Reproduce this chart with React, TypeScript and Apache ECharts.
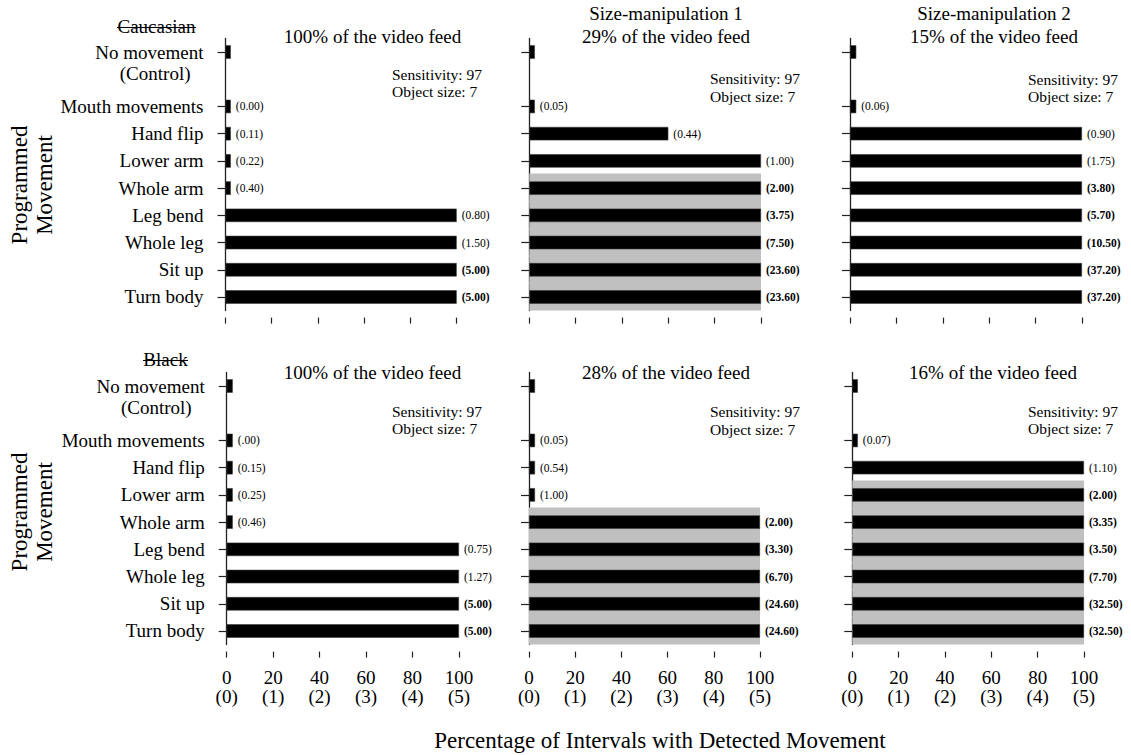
import React, { useEffect, useRef } from "react";
import * as echarts from "echarts";

const SERIF = "Liberation Serif";

// ---------- data ----------
const categories = [
  "No movement",
  "(Control)",
  "Mouth movements",
  "Hand flip",
  "Lower arm",
  "Whole arm",
  "Leg bend",
  "Whole leg",
  "Sit up",
  "Turn body",
];

// percentage of intervals with detected movement
const caucasianFull = [2.3, null, 2.3, 2.3, 2.3, 2.3, 100, 100, 100, 100];
const caucasianSize1 = [2.4, null, 2.4, 60, 100, 100, 100, 100, 100, 100];
const caucasianSize2 = [2.7, null, 2.7, 100, 100, 100, 100, 100, 100, 100];
const blackFull = [2.6, null, 2.6, 2.6, 2.6, 2.6, 100, 100, 100, 100];
const blackSize1 = [2.6, null, 2.6, 2.6, 2.6, 100, 100, 100, 100, 100];
const blackSize2 = [2.4, null, 2.4, 100, 100, 100, 100, 100, 100, 100];

// bracketed rates shown next to bars
const caucasianFullRates = ["", "", "(0.00)", "(0.11)", "(0.22)", "(0.40)", "(0.80)", "(1.50)", "(5.00)", "(5.00)"];
const caucasianSize1Rates = ["", "", "(0.05)", "(0.44)", "(1.00)", "(2.00)", "(3.75)", "(7.50)", "(23.60)", "(23.60)"];
const caucasianSize2Rates = ["", "", "(0.06)", "(0.90)", "(1.75)", "(3.80)", "(5.70)", "(10.50)", "(37.20)", "(37.20)"];
const blackFullRates = ["", "", "(.00)", "(0.15)", "(0.25)", "(0.46)", "(0.75)", "(1.27)", "(5.00)", "(5.00)"];
const blackSize1Rates = ["", "", "(0.05)", "(0.54)", "(1.00)", "(2.00)", "(3.30)", "(6.70)", "(24.60)", "(24.60)"];
const blackSize2Rates = ["", "", "(0.07)", "(1.10)", "(2.00)", "(3.35)", "(3.50)", "(7.70)", "(32.50)", "(32.50)"];

// first category of the grey shaded block (null = none)
const shadeFrom = [null, "Whole arm", null, null, "Whole arm", "Lower arm"];

const panelValues = [caucasianFull, caucasianSize1, caucasianSize2, blackFull, blackSize1, blackSize2];
const panelRates = [caucasianFullRates, caucasianSize1Rates, caucasianSize2Rates, blackFullRates, blackSize1Rates, blackSize2Rates];

const panelTitles = [
  "100% of the video feed",
  "Size-manipulation 1\n29% of the video feed",
  "Size-manipulation 2\n15% of the video feed",
  "100% of the video feed",
  "28% of the video feed",
  "16% of the video feed",
];
const groupNames = ["Caucasian", "Black"];
const settingsNote = "Sensitivity: 97\nObject size: 7";
const yAxisTitle = "Programmed\nMovement";
const xAxisTitle = "Percentage of Intervals with Detected Movement";

// ---------- layout ----------
const ROW_TOP = [38.4, 372.4];
const GRID_H = 272.2;
const PANEL_X = [
  [225.5, 456.7],
  [529.3, 761],
  [850, 1082],
  [226.7, 459],
  [529, 760],
  [852.3, 1084],
];
const TITLE_POS = [
  [372.5, 37],
  [666, 37],
  [994, 37],
  [372.5, 373],
  [666, 373],
  [993, 373],
];
const NOTE_POS = [
  [392, 83],
  [710, 87.5],
  [1028, 88],
  [392, 420],
  [710, 420.5],
  [1028, 420],
];

export default function App() {
  const ref = useRef<HTMLDivElement>(null);

  useEffect(() => {
    const chart = echarts.init(ref.current as HTMLDivElement, null, { renderer: "svg" });

    const grids: any[] = [];
    const xAxes: any[] = [];
    const yAxes: any[] = [];
    const series: any[] = [];
    const graphics: any[] = [];
    const slot = GRID_H / categories.length;

    for (let g = 0; g < 6; g++) {
      const row = Math.floor(g / 3);
      const col = g % 3;
      const [x0, x1] = PANEL_X[g];
      grids.push({ left: x0, top: ROW_TOP[row], width: x1 - x0, height: GRID_H, containLabel: false });

      xAxes.push({
        gridIndex: g,
        type: "value",
        min: 0,
        max: 100,
        interval: 20,
        offset: 7,
        axisLine: { show: false },
        axisTick: { show: true, length: 6, lineStyle: { color: "#222", width: 1.2 } },
        splitLine: { show: false },
        axisLabel:
          row === 1
            ? {
                show: true,
                margin: 16,
                fontSize: 19,
                lineHeight: 19,
                fontFamily: SERIF,
                color: "#000",
                formatter: (v: number) => `${v}\n(${v / 20})`,
              }
            : { show: false },
      });

      yAxes.push({
        gridIndex: g,
        type: "category",
        data: categories,
        inverse: true,
        offset: 4,
        axisLine: { show: true, lineStyle: { color: "#222", width: 1.3 } },
        axisTick: {
          show: true,
          alignWithLabel: true,
          length: 8,
          interval: (_i: number, v: string) => v !== "(Control)",
          lineStyle: { color: "#222", width: 1.2 },
        },
        splitLine: { show: false },
        axisLabel:
          col === 0
            ? {
                show: true,
                interval: 0,
                margin: 18,
                fontSize: 19,
                fontFamily: SERIF,
                color: "#000",
                formatter: (v: string) => (v === "(Control)" ? `{c|${v}}` : v),
                rich: {
                  c: { fontSize: 19, fontFamily: SERIF, color: "#000", padding: [0, 13, 12, 0] },
                },
              }
            : { show: false },
      });
      yAxes.push({ gridIndex: g, type: "category", data: categories, inverse: true, show: false });

      const shadeIdx = shadeFrom[g] ? categories.indexOf(shadeFrom[g] as string) : -1;
      const shadeData = categories.map((_c, i) => (shadeIdx >= 0 && i >= shadeIdx ? 100 : null));
      series.push({
        type: "bar",
        xAxisIndex: g,
        yAxisIndex: 2 * g + 1,
        data: shadeData,
        barWidth: Math.ceil(slot) + 1,
        silent: true,
        itemStyle: { color: "#c0c0c0" },
        z: 1,
      });

      const rates = panelRates[g];
      series.push({
        type: "bar",
        xAxisIndex: g,
        yAxisIndex: 2 * g,
        data: panelValues[g],
        barWidth: 13.5,
        itemStyle: { color: "#000", borderColor: "#3a3a3a", borderWidth: 0.6 },
        z: 2,
        label: {
          show: true,
          position: "right",
          distance: 5,
          formatter: (p: any) => {
            const s = rates[p.dataIndex];
            if (!s) return "";
            const num = parseFloat(s.replace(/[()]/g, ""));
            return num >= 2 ? `{b|${s}}` : `{n|${s}}`;
          },
          rich: {
            b: { fontSize: 11.5, fontWeight: "bold", fontFamily: SERIF, color: "#000" },
            n: { fontSize: 11.5, fontFamily: SERIF, color: "#000" },
          },
        },
      });

      // panel title
      graphics.push({
        type: "text",
        x: TITLE_POS[g][0],
        y: TITLE_POS[g][1] + 11,
        style: {
          text: panelTitles[g],
          fontSize: 19,
          fontFamily: SERIF,
          fill: "#000",
          lineHeight: 23,
          align: "center",
          verticalAlign: "bottom",
          textAlign: "center",
          textVerticalAlign: "bottom",
        },
      });
      // settings note
      graphics.push({
        type: "text",
        x: NOTE_POS[g][0],
        y: NOTE_POS[g][1],
        style: {
          text: settingsNote,
          fontSize: 15.5,
          fontFamily: SERIF,
          fill: "#000",
          lineHeight: 17.5,
          align: "left",
          verticalAlign: "middle",
          textAlign: "left",
          textVerticalAlign: "middle",
        },
      });
      // small break in the y-axis line beside the control label
      if (g !== 3) {
        graphics.push({
          type: "rect",
          z: 100,
          shape: { x: x0 - 6, y: ROW_TOP[row] + 1.5 * slot + 1, width: 4, height: 0.6 * slot },
          style: { fill: "#fff" },
        });
      }
    }

    // group names with strike-through
    const groupPos = [
      [156.5, 26, 117, 196, 27.5],
      [165.5, 359, 143, 188, 360.5],
    ];
    groupNames.forEach((name, i) => {
      const [cx, cy, lx0, lx1, ly] = groupPos[i];
      graphics.push({
        type: "text",
        x: cx,
        y: cy,
        style: {
          text: name,
          fontSize: 19,
          fontFamily: SERIF,
          fill: "#000",
          align: "center",
          verticalAlign: "middle",
          textAlign: "center",
          textVerticalAlign: "middle",
        },
      });
      graphics.push({
        type: "line",
        shape: { x1: lx0, y1: ly, x2: lx1, y2: ly },
        style: { stroke: "#000", lineWidth: 1 },
      });
    });

    // y axis titles
    [185, 512].forEach((cy) => {
      graphics.push({
        type: "text",
        x: 31.5,
        y: cy,
        rotation: Math.PI / 2,
        style: {
          text: yAxisTitle,
          fontSize: 23,
          fontFamily: SERIF,
          fill: "#000",
          lineHeight: 25,
          align: "center",
          verticalAlign: "middle",
          textAlign: "center",
          textVerticalAlign: "middle",
        },
      });
    });

    // x axis title
    graphics.push({
      type: "text",
      x: 660,
      y: 740,
      style: {
        text: xAxisTitle,
        fontSize: 23,
        fontFamily: SERIF,
        fill: "#000",
        align: "center",
        verticalAlign: "middle",
        textAlign: "center",
        textVerticalAlign: "middle",
      },
    });

    chart.setOption({
      animation: false,
      backgroundColor: "#fff",
      textStyle: { fontFamily: SERIF },
      grid: grids,
      xAxis: xAxes,
      yAxis: yAxes,
      series,
      graphic: graphics,
    });

    return () => chart.dispose();
  }, []);

  return (
    <div
      ref={ref}
      style={{ position: "fixed", left: 0, top: 0, width: 1131, height: 755, background: "#fff" }}
    />
  );
}
